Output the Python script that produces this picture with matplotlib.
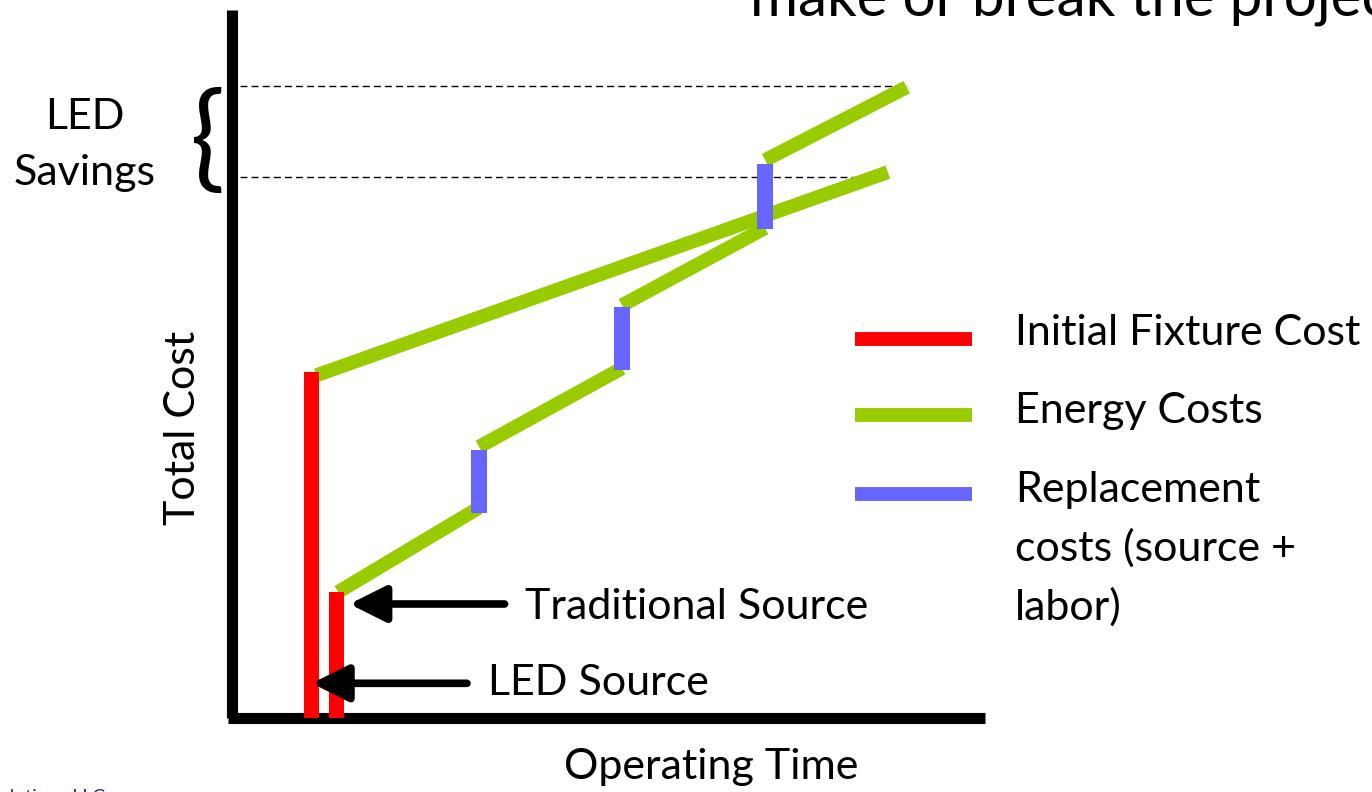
import matplotlib.pyplot as plt

plt.rcParams['font.family'] = ['Lato', 'DejaVu Sans']

# ── data (operating time 0-100, total cost 0-100) ──────────────────────────
fixture_t = [10.5, 13.9]          # LED, traditional
fixture_cost = [48.9, 17.8]

led_energy_t = [11.2, 87.1]
led_energy_c = [48.4, 77.1]

trad_seg_t = [(14.1, 32.8), (32.8, 51.8), (51.8, 70.8), (70.8, 89.6)]
trad_seg_c = [(17.8, 29.7), (38.3, 49.4), (58.3, 69.2), (78.8, 89.1)]

repl_t = [32.8, 51.8, 70.8]
repl_lo = [29.0, 49.2, 69.1]
repl_hi = [37.9, 58.1, 78.2]

savings_hi, savings_lo = 89.3, 76.4
savings_end = [89.6, 86.4]

RED, GREEN, BLUE = "#FF0000", "#99CC00", "#6666FF"

W, H = 1372, 792
fig = plt.figure(figsize=(W / 100, H / 100), dpi=100)

# background axes in pixel space for text
bg = fig.add_axes([0, 0, 1, 1])
bg.set_xlim(0, W); bg.set_ylim(H, 0); bg.axis("off")

# chart axes
x0, y0, pw, ph = 232, 718, 753, 708
ax = fig.add_axes([x0 / W, (H - y0) / H, pw / W, ph / H])
ax.set_xlim(0, 100); ax.set_ylim(0, 100); ax.axis("off")

# axes lines
ax.plot([0, 0], [0, 100], color="black", lw=8, solid_capstyle="butt", clip_on=False)
ax.plot([-0.5, 100], [0, 0], color="black", lw=8, solid_capstyle="butt", clip_on=False)

# savings guide lines
ax.plot([1.1, savings_end[0]], [savings_hi, savings_hi], color="black", lw=1, ls=(0, (5, 3)))
ax.plot([1.1, savings_end[1]], [savings_lo, savings_lo], color="black", lw=1, ls=(0, (5, 3)))

# green energy lines
ax.plot(led_energy_t, led_energy_c, color=GREEN, lw=10, solid_capstyle="butt")
for ts, cs in zip(trad_seg_t, trad_seg_c):
    ax.plot(ts, cs, color=GREEN, lw=10, solid_capstyle="butt")

# replacement bars
ax.bar(repl_t, [h - l for h, l in zip(repl_hi, repl_lo)], bottom=repl_lo,
       width=2.1, color=BLUE, zorder=3)

# initial fixture bars
ax.bar(fixture_t, fixture_cost, width=2.0, color=RED, zorder=3)

# arrows
arrow = dict(arrowstyle="-|>,head_length=1.0,head_width=0.5", color="black",
             lw=5.5, mutation_scale=22, shrinkA=0, shrinkB=0)
ax.annotate("", xy=(15.6, 16.1), xytext=(36.2, 16.1), arrowprops=arrow)
ax.annotate("", xy=(10.6, 4.9), xytext=(31.2, 4.9), arrowprops=arrow)

fs = 31
bg.text(525, 607, "Traditional Source", fontsize=fs, va="center", ha="left")
bg.text(488, 683, "LED Source", fontsize=fs, va="center", ha="left")
bg.text(711, 767, "Operating Time", fontsize=fs, va="center", ha="center")
bg.text(183, 428, "Total Cost", fontsize=fs, va="center", ha="center", rotation=90)
bg.text(85, 145, "LED\nSavings", fontsize=fs, va="center", ha="center", linespacing=1.6)
bg.text(208, 143, "{", fontsize=84, va="center", ha="center")

# legend
legend_y = [339, 415, 494]
for y, c in zip(legend_y, [RED, GREEN, BLUE]):
    bg.plot([855, 972], [y, y], color=c, lw=10, solid_capstyle="butt")
bg.text(1015, 333, "Initial Fixture Cost", fontsize=fs, va="center", ha="left")
bg.text(1015, 411, "Energy Costs", fontsize=fs, va="center", ha="left")
bg.text(1015, 549, "Replacement\ncosts (source +\nlabor)", fontsize=fs, va="center",
        ha="left", linespacing=1.6)

# cut-off slide text
bg.text(750, 15, "make or break the project", fontsize=42, va="baseline", ha="left")
bg.text(105, 803, "Solutions LLC", fontsize=14, color="#1F3864", va="baseline", ha="right")

fig.savefig("out.png", dpi=100)
